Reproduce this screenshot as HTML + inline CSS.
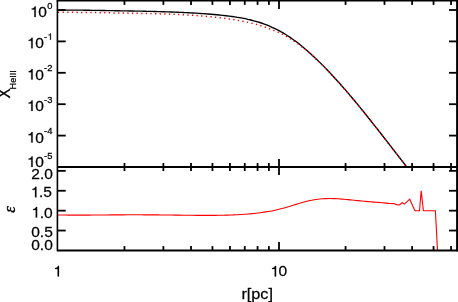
<!DOCTYPE html>
<html><head><meta charset="utf-8"><title>chart</title>
<style>html,body{margin:0;padding:0;background:#fff;}body{width:458px;height:302px;overflow:hidden;position:relative;font-family:"Liberation Sans",sans-serif;}</style>
</head><body>
<svg width="458" height="302" viewBox="0 0 458 302" style="position:absolute;left:0;top:0">
<rect x="0" y="0" width="458" height="302" fill="#fff"/>
<path d="M58.00,10.06 C58.50,10.06 60.00,10.05 61.00,10.05 C62.00,10.05 63.00,10.05 64.00,10.05 C65.00,10.05 66.00,10.05 67.00,10.05 C68.00,10.05 69.00,10.05 70.00,10.06 C71.00,10.06 72.00,10.07 73.00,10.08 C74.00,10.09 75.00,10.10 76.00,10.11 C77.00,10.12 78.00,10.13 79.00,10.14 C80.00,10.15 81.00,10.16 82.00,10.18 C83.00,10.19 84.00,10.20 85.00,10.22 C86.00,10.23 87.00,10.25 88.00,10.26 C89.00,10.28 90.00,10.29 91.00,10.31 C92.00,10.32 93.00,10.34 94.00,10.36 C95.00,10.37 96.00,10.39 97.00,10.41 C98.00,10.42 99.00,10.44 100.00,10.46 C101.00,10.47 102.00,10.49 103.00,10.51 C104.00,10.52 105.00,10.54 106.00,10.56 C107.00,10.57 108.00,10.59 109.00,10.61 C110.00,10.62 111.00,10.64 112.00,10.66 C113.00,10.67 114.00,10.69 115.00,10.71 C116.00,10.73 117.00,10.74 118.00,10.76 C119.00,10.78 120.00,10.79 121.00,10.81 C122.00,10.83 123.00,10.85 124.00,10.86 C125.00,10.88 126.00,10.90 127.00,10.92 C128.00,10.93 129.00,10.95 130.00,10.97 C131.00,10.99 132.00,11.01 133.00,11.03 C134.00,11.04 135.00,11.06 136.00,11.08 C137.00,11.10 138.00,11.12 139.00,11.14 C140.00,11.16 141.00,11.18 142.00,11.20 C143.00,11.22 144.00,11.25 145.00,11.27 C146.00,11.29 147.00,11.31 148.00,11.33 C149.00,11.36 150.00,11.38 151.00,11.41 C152.00,11.43 153.00,11.46 154.00,11.48 C155.00,11.51 156.00,11.53 157.00,11.56 C158.00,11.59 159.00,11.62 160.00,11.65 C161.00,11.68 162.00,11.71 163.00,11.74 C164.00,11.77 165.00,11.80 166.00,11.83 C167.00,11.87 168.00,11.90 169.00,11.94 C170.00,11.97 171.00,12.01 172.00,12.04 C173.00,12.08 174.00,12.12 175.00,12.16 C176.00,12.20 177.00,12.24 178.00,12.28 C179.00,12.33 180.00,12.37 181.00,12.42 C182.00,12.46 183.00,12.51 184.00,12.56 C185.00,12.60 186.00,12.65 187.00,12.70 C188.00,12.75 189.00,12.81 190.00,12.86 C191.00,12.91 192.00,12.97 193.00,13.03 C194.00,13.08 195.00,13.14 196.00,13.20 C197.00,13.26 198.00,13.32 199.00,13.39 C200.00,13.45 201.00,13.52 202.00,13.58 C203.00,13.65 204.00,13.72 205.00,13.79 C206.00,13.86 207.00,13.94 208.00,14.01 C209.00,14.09 210.00,14.17 211.00,14.25 C212.00,14.33 213.00,14.41 214.00,14.50 C215.00,14.59 216.00,14.68 217.00,14.77 C218.00,14.86 219.00,14.96 220.00,15.06 C221.00,15.16 222.00,15.26 223.00,15.37 C224.00,15.48 225.00,15.59 226.00,15.71 C227.00,15.83 228.00,15.95 229.00,16.07 C230.00,16.20 231.00,16.33 232.00,16.47 C233.00,16.61 234.00,16.75 235.00,16.90 C236.00,17.06 237.00,17.21 238.00,17.38 C239.00,17.54 240.00,17.72 241.00,17.90 C242.00,18.08 243.00,18.27 244.00,18.46 C245.00,18.66 246.00,18.87 247.00,19.09 C248.00,19.31 249.00,19.53 250.00,19.77 C251.00,20.01 252.00,20.26 253.00,20.53 C254.00,20.79 255.00,21.06 256.00,21.35 C257.00,21.64 258.00,21.94 259.00,22.25 C260.00,22.57 261.00,22.90 262.00,23.24 C263.00,23.59 264.00,23.94 265.00,24.32 C266.00,24.69 267.00,25.08 268.00,25.49 C269.00,25.90 270.00,26.32 271.00,26.76 C272.00,27.20 273.00,27.66 274.00,28.13 C275.00,28.61 276.00,29.10 277.00,29.61 C278.00,30.12 279.00,30.65 280.00,31.20 C281.00,31.75 282.00,32.31 283.00,32.90 C284.00,33.48 285.00,34.09 286.00,34.71 C287.00,35.34 288.00,35.98 289.00,36.64 C290.00,37.30 291.00,37.98 292.00,38.68 C293.00,39.38 294.00,40.09 295.00,40.83 C296.00,41.56 297.00,42.32 298.00,43.09 C299.00,43.86 300.00,44.65 301.00,45.45 C302.00,46.26 303.00,47.08 304.00,47.92 C305.00,48.76 306.00,49.62 307.00,50.49 C308.00,51.36 309.00,52.24 310.00,53.14 C311.00,54.04 312.00,54.96 313.00,55.89 C314.00,56.82 315.00,57.76 316.00,58.71 C317.00,59.67 318.00,60.64 319.00,61.62 C320.00,62.60 321.00,63.59 322.00,64.60 C323.00,65.60 324.00,66.62 325.00,67.64 C326.00,68.67 327.00,69.71 328.00,70.76 C329.00,71.81 330.00,72.87 331.00,73.93 C332.00,75.00 333.00,76.08 334.00,77.17 C335.00,78.26 336.00,79.36 337.00,80.46 C338.00,81.57 339.00,82.69 340.00,83.81 C341.00,84.94 342.00,86.07 343.00,87.22 C344.00,88.36 345.00,89.51 346.00,90.67 C347.00,91.83 348.00,92.99 349.00,94.17 C350.00,95.34 351.00,96.52 352.00,97.71 C353.00,98.90 354.00,100.10 355.00,101.30 C356.00,102.50 357.00,103.71 358.00,104.93 C359.00,106.14 360.00,107.37 361.00,108.59 C362.00,109.82 363.00,111.05 364.00,112.29 C365.00,113.53 366.00,114.77 367.00,116.02 C368.00,117.27 369.00,118.52 370.00,119.78 C371.00,121.03 372.00,122.29 373.00,123.56 C374.00,124.82 375.00,126.09 376.00,127.36 C377.00,128.63 378.00,129.91 379.00,131.18 C380.00,132.46 381.00,133.74 382.00,135.02 C383.00,136.30 384.00,137.58 385.00,138.87 C386.00,140.15 387.00,141.44 388.00,142.73 C389.00,144.02 390.00,145.31 391.00,146.60 C392.00,147.89 393.00,149.18 394.00,150.47 C395.00,151.76 396.00,153.05 397.00,154.35 C398.00,155.64 399.00,156.93 400.00,158.22 C401.00,159.51 402.00,160.81 403.00,162.10 C404.00,163.39 405.47,165.28 406.00,165.97 C406.53,166.66 406.17,166.18 406.20,166.23" fill="none" stroke="#000" stroke-width="1.35" stroke-linejoin="round"/>
<path d="M58.00,12.36 C58.50,12.35 60.00,12.35 61.00,12.34 C62.00,12.34 63.00,12.34 64.00,12.34 C65.00,12.33 66.00,12.33 67.00,12.33 C68.00,12.33 69.00,12.32 70.00,12.33 C71.00,12.33 72.00,12.33 73.00,12.34 C74.00,12.35 75.00,12.35 76.00,12.36 C77.00,12.37 78.00,12.38 79.00,12.39 C80.00,12.40 81.00,12.41 82.00,12.42 C83.00,12.43 84.00,12.44 85.00,12.46 C86.00,12.47 87.00,12.48 88.00,12.49 C89.00,12.51 90.00,12.52 91.00,12.54 C92.00,12.55 93.00,12.56 94.00,12.58 C95.00,12.59 96.00,12.61 97.00,12.62 C98.00,12.64 99.00,12.65 100.00,12.67 C101.00,12.68 102.00,12.70 103.00,12.72 C104.00,12.73 105.00,12.75 106.00,12.76 C107.00,12.78 108.00,12.79 109.00,12.81 C110.00,12.83 111.00,12.84 112.00,12.86 C113.00,12.88 114.00,12.89 115.00,12.91 C116.00,12.93 117.00,12.94 118.00,12.96 C119.00,12.98 120.00,12.99 121.00,13.01 C122.00,13.03 123.00,13.05 124.00,13.06 C125.00,13.08 126.00,13.10 127.00,13.12 C128.00,13.13 129.00,13.15 130.00,13.17 C131.00,13.19 132.00,13.21 133.00,13.23 C134.00,13.24 135.00,13.26 136.00,13.28 C137.00,13.30 138.00,13.32 139.00,13.34 C140.00,13.36 141.00,13.38 142.00,13.40 C143.00,13.42 144.00,13.45 145.00,13.47 C146.00,13.49 147.00,13.51 148.00,13.53 C149.00,13.56 150.00,13.58 151.00,13.61 C152.00,13.63 153.00,13.66 154.00,13.68 C155.00,13.71 156.00,13.73 157.00,13.76 C158.00,13.79 159.00,13.82 160.00,13.85 C161.00,13.88 162.00,13.91 163.00,13.94 C164.00,13.97 165.00,14.00 166.00,14.03 C167.00,14.07 168.00,14.10 169.00,14.14 C170.00,14.17 171.00,14.21 172.00,14.25 C173.00,14.29 174.00,14.33 175.00,14.37 C176.00,14.41 177.00,14.46 178.00,14.51 C179.00,14.55 180.00,14.60 181.00,14.65 C182.00,14.70 183.00,14.76 184.00,14.81 C185.00,14.87 186.00,14.93 187.00,14.98 C188.00,15.04 189.00,15.10 190.00,15.17 C191.00,15.23 192.00,15.29 193.00,15.36 C194.00,15.43 195.00,15.49 196.00,15.56 C197.00,15.63 198.00,15.70 199.00,15.78 C200.00,15.85 201.00,15.92 202.00,16.00 C203.00,16.08 204.00,16.17 205.00,16.25 C206.00,16.34 207.00,16.43 208.00,16.52 C209.00,16.61 210.00,16.70 211.00,16.80 C212.00,16.90 213.00,17.00 214.00,17.10 C215.00,17.21 216.00,17.31 217.00,17.42 C218.00,17.53 219.00,17.64 220.00,17.76 C221.00,17.88 222.00,17.99 223.00,18.12 C224.00,18.24 225.00,18.37 226.00,18.51 C227.00,18.64 228.00,18.79 229.00,18.93 C230.00,19.08 231.00,19.23 232.00,19.38 C233.00,19.54 234.00,19.70 235.00,19.87 C236.00,20.03 237.00,20.20 238.00,20.38 C239.00,20.56 240.00,20.74 241.00,20.93 C242.00,21.12 243.00,21.31 244.00,21.51 C245.00,21.71 246.00,21.92 247.00,22.14 C248.00,22.35 249.00,22.57 250.00,22.81 C251.00,23.04 252.00,23.28 253.00,23.53 C254.00,23.79 255.00,24.05 256.00,24.33 C257.00,24.60 258.00,24.89 259.00,25.19 C260.00,25.49 261.00,25.80 262.00,26.12 C263.00,26.44 264.00,26.77 265.00,27.11 C266.00,27.45 267.00,27.81 268.00,28.17 C269.00,28.54 270.00,28.93 271.00,29.31 C272.00,29.69 273.00,30.06 274.00,30.45 C275.00,30.84 276.00,31.22 277.00,31.65 C278.00,32.07 279.00,32.52 280.00,33.00 C281.00,33.48 282.00,34.00 283.00,34.53 C284.00,35.07 285.00,35.63 286.00,36.20 C287.00,36.78 288.00,37.38 289.00,37.99 C290.00,38.60 291.00,39.23 292.00,39.88 C293.00,40.53 294.00,41.19 295.00,41.88 C296.00,42.56 297.00,43.26 298.00,43.99 C299.00,44.71 300.00,45.45 301.00,46.21 C302.00,46.96 303.00,47.73 304.00,48.52 C305.00,49.31 306.00,50.11 307.00,50.94 C308.00,51.77 309.00,52.62 310.00,53.49 C311.00,54.36 312.00,55.26 313.00,56.16 C314.00,57.07 315.00,57.99 316.00,58.92 C317.00,59.86 318.00,60.81 319.00,61.77 C320.00,62.74 321.00,63.72 322.00,64.71 C323.00,65.71 324.00,66.72 325.00,67.74 C326.00,68.77 327.00,69.81 328.00,70.85 C329.00,71.90 330.00,72.96 331.00,74.03 C332.00,75.09 333.00,76.17 334.00,77.26 C335.00,78.35 336.00,79.44 337.00,80.55 C338.00,81.65 339.00,82.77 340.00,83.89 C341.00,85.02 342.00,86.15 343.00,87.29 C344.00,88.43 345.00,89.58 346.00,90.74 C347.00,91.90 348.00,93.07 349.00,94.24 C350.00,95.41 351.00,96.59 352.00,97.78 C353.00,98.97 354.00,100.17 355.00,101.37 C356.00,102.57 357.00,103.78 358.00,104.99 C359.00,106.21 360.00,107.43 361.00,108.66 C362.00,109.88 363.00,111.12 364.00,112.35 C365.00,113.59 366.00,114.83 367.00,116.08 C368.00,117.33 369.00,118.58 370.00,119.83 C371.00,121.09 372.00,122.35 373.00,123.61 C374.00,124.88 375.00,126.15 376.00,127.42 C377.00,128.69 378.00,129.96 379.00,131.24 C380.00,132.51 381.00,133.79 382.00,135.07 C383.00,136.35 384.00,137.64 385.00,138.92 C386.00,140.21 387.00,141.49 388.00,142.78 C389.00,144.07 390.00,145.36 391.00,146.65 C392.00,147.94 393.00,149.23 394.00,150.52 C395.00,151.81 396.00,153.10 397.00,154.40 C398.00,155.69 399.00,156.98 400.00,158.27 C401.00,159.56 402.00,160.86 403.00,162.15 C404.00,163.44 405.47,165.33 406.00,166.02 C406.53,166.71 406.17,166.23 406.20,166.28" fill="none" stroke="#f00" stroke-width="1.5" stroke-dasharray="1.3 3.32" stroke-linejoin="round"/>
<path d="M58.00,214.94 C58.67,214.95 60.67,214.99 62.00,215.02 C63.33,215.04 64.67,215.06 66.00,215.07 C67.33,215.09 68.67,215.10 70.00,215.11 C71.33,215.12 72.67,215.13 74.00,215.13 C75.33,215.13 76.67,215.14 78.00,215.13 C79.33,215.13 80.67,215.13 82.00,215.13 C83.33,215.12 84.67,215.12 86.00,215.11 C87.33,215.11 88.67,215.10 90.00,215.09 C91.33,215.08 92.67,215.07 94.00,215.06 C95.33,215.05 96.67,215.04 98.00,215.03 C99.33,215.02 100.67,215.00 102.00,214.99 C103.33,214.98 104.67,214.97 106.00,214.96 C107.33,214.95 108.67,214.93 110.00,214.92 C111.33,214.91 112.67,214.90 114.00,214.89 C115.33,214.88 116.67,214.87 118.00,214.87 C119.33,214.86 120.67,214.85 122.00,214.84 C123.33,214.84 124.67,214.83 126.00,214.82 C127.33,214.82 128.67,214.82 130.00,214.81 C131.33,214.81 132.67,214.81 134.00,214.81 C135.33,214.81 136.67,214.81 138.00,214.81 C139.33,214.81 140.67,214.81 142.00,214.82 C143.33,214.82 144.67,214.83 146.00,214.83 C147.33,214.84 148.67,214.84 150.00,214.85 C151.33,214.86 152.67,214.87 154.00,214.88 C155.33,214.89 156.67,214.90 158.00,214.91 C159.33,214.93 160.67,214.94 162.00,214.95 C163.33,214.97 164.67,214.98 166.00,215.00 C167.33,215.01 168.67,215.03 170.00,215.04 C171.33,215.06 172.67,215.08 174.00,215.09 C175.33,215.11 176.67,215.13 178.00,215.14 C179.33,215.16 180.67,215.18 182.00,215.19 C183.33,215.21 184.67,215.22 186.00,215.24 C187.33,215.26 188.67,215.27 190.00,215.28 C191.33,215.30 192.67,215.31 194.00,215.32 C195.33,215.34 196.67,215.35 198.00,215.35 C199.33,215.36 200.67,215.37 202.00,215.38 C203.33,215.38 204.67,215.39 206.00,215.39 C207.33,215.39 208.67,215.39 210.00,215.38 C211.33,215.38 212.67,215.37 214.00,215.36 C215.33,215.35 216.67,215.33 218.00,215.32 C219.33,215.30 220.67,215.28 222.00,215.25 C223.33,215.22 224.67,215.19 226.00,215.16 C227.33,215.12 228.67,215.08 230.00,215.04 C231.33,214.99 232.67,214.94 234.00,214.88 C235.33,214.82 236.67,214.76 238.00,214.69 C239.33,214.62 240.67,214.54 242.00,214.46 C243.33,214.37 244.67,214.28 246.00,214.18 C247.33,214.08 248.67,213.97 250.00,213.85 C251.33,213.73 252.67,213.60 254.00,213.46 C255.33,213.32 256.67,213.17 258.00,213.01 C259.33,212.85 260.67,212.68 262.00,212.49 C263.33,212.31 264.67,212.11 266.00,211.89 C267.33,211.68 268.67,211.46 270.00,211.21 C271.33,210.97 272.67,210.71 274.00,210.44 C275.33,210.16 276.67,209.87 278.00,209.56 C279.33,209.25 280.67,208.92 282.00,208.58 C283.33,208.23 284.67,207.86 286.00,207.47 C287.33,207.09 288.67,206.68 290.00,206.28 C291.33,205.87 292.67,205.44 294.00,205.02 C295.33,204.61 296.67,204.18 298.00,203.77 C299.33,203.37 300.67,202.96 302.00,202.58 C303.33,202.20 304.67,201.84 306.00,201.50 C307.33,201.17 308.67,200.86 310.00,200.57 C311.33,200.29 312.67,200.04 314.00,199.81 C315.33,199.59 316.67,199.39 318.00,199.23 C319.33,199.06 320.67,198.93 322.00,198.82 C323.33,198.71 324.67,198.64 326.00,198.59 C327.33,198.54 328.67,198.52 330.00,198.52 C331.33,198.52 332.67,198.55 334.00,198.60 C335.33,198.64 336.67,198.72 338.00,198.80 C339.33,198.88 340.67,198.99 342.00,199.10 C343.33,199.21 344.67,199.33 346.00,199.46 C347.33,199.59 348.67,199.72 350.00,199.86 C351.33,199.99 352.67,200.13 354.00,200.27 C355.33,200.40 356.67,200.54 358.00,200.67 C359.33,200.80 360.67,200.93 362.00,201.05 C363.33,201.18 364.67,201.30 366.00,201.42 C367.33,201.54 368.67,201.65 370.00,201.76 C371.33,201.87 372.67,201.98 374.00,202.08 C375.33,202.19 376.67,202.29 378.00,202.40 C379.33,202.51 380.67,202.62 382.00,202.73 C383.33,202.85 384.67,202.97 386.00,203.10 C387.33,203.23 389.33,203.45 390.00,203.53 L394.00,203.60 L396.40,204.60 L399.30,205.00 L402.20,202.70 L404.50,204.15 L409.70,199.15 L414.90,210.70 L419.50,210.70 L421.20,190.90 L423.40,210.70 L435.40,210.70 L437.50,250.40" fill="none" stroke="#f00" stroke-width="1.1" stroke-linejoin="miter"/>
<g stroke="#000" fill="none" stroke-linecap="butt">
<path d="M56.6,0.6 H458" stroke-width="1.6"/>
<path d="M57.4,0.6 V251.35" stroke-width="1.6"/>
<path d="M457.05,0 V251.35" stroke-width="1.9"/>
<path d="M57.4,167.0 H458" stroke-width="2.0"/>
<path d="M57.4,250.45000000000002 H458" stroke-width="1.9"/>
</g>
<g stroke="#000" stroke-width="1.8" fill="none">
<path d="M279.00,0.6 v8.3"/>
<path d="M279.00,159.0 V175.0"/>
<path d="M279.00,250.4 v-8.3"/>
<path d="M124.46,0.6 v4.3"/>
<path d="M124.46,163.0 V171.0"/>
<path d="M124.46,250.4 v-4.3"/>
<path d="M163.39,0.6 v4.3"/>
<path d="M163.39,163.0 V171.0"/>
<path d="M163.39,250.4 v-4.3"/>
<path d="M191.02,0.6 v4.3"/>
<path d="M191.02,163.0 V171.0"/>
<path d="M191.02,250.4 v-4.3"/>
<path d="M212.44,0.6 v4.3"/>
<path d="M212.44,163.0 V171.0"/>
<path d="M212.44,250.4 v-4.3"/>
<path d="M229.95,0.6 v4.3"/>
<path d="M229.95,163.0 V171.0"/>
<path d="M229.95,250.4 v-4.3"/>
<path d="M244.75,0.6 v4.3"/>
<path d="M244.75,163.0 V171.0"/>
<path d="M244.75,250.4 v-4.3"/>
<path d="M257.57,0.6 v4.3"/>
<path d="M257.57,163.0 V171.0"/>
<path d="M257.57,250.4 v-4.3"/>
<path d="M268.88,0.6 v4.3"/>
<path d="M268.88,163.0 V171.0"/>
<path d="M268.88,250.4 v-4.3"/>
<path d="M345.56,0.6 v4.3"/>
<path d="M345.56,163.0 V171.0"/>
<path d="M345.56,250.4 v-4.3"/>
<path d="M384.49,0.6 v4.3"/>
<path d="M384.49,163.0 V171.0"/>
<path d="M384.49,250.4 v-4.3"/>
<path d="M412.12,0.6 v4.3"/>
<path d="M412.12,163.0 V171.0"/>
<path d="M412.12,250.4 v-4.3"/>
<path d="M433.54,0.6 v4.3"/>
<path d="M433.54,163.0 V171.0"/>
<path d="M433.54,250.4 v-4.3"/>
<path d="M451.05,0.6 v4.3"/>
<path d="M451.05,163.0 V171.0"/>
<path d="M451.05,250.4 v-4.3"/>
<path d="M57.4,10.00 h8.3"/>
<path d="M457.0,10.00 h-8.0"/>
<path d="M57.4,41.40 h8.3"/>
<path d="M457.0,41.40 h-8.0"/>
<path d="M57.4,72.80 h8.3"/>
<path d="M457.0,72.80 h-8.0"/>
<path d="M57.4,104.20 h8.3"/>
<path d="M457.0,104.20 h-8.0"/>
<path d="M57.4,135.60 h8.3"/>
<path d="M457.0,135.60 h-8.0"/>
<path d="M57.4,167.00 h8.3"/>
<path d="M457.0,167.00 h-8.0"/>
<path d="M57.4,230.55 h8.3"/>
<path d="M457.0,230.55 h-8.0"/>
<path d="M57.4,210.65 h8.3"/>
<path d="M457.0,210.65 h-8.0"/>
<path d="M57.4,190.75 h8.3"/>
<path d="M457.0,190.75 h-8.0"/>
<path d="M57.4,170.85 h8.3"/>
<path d="M457.0,170.85 h-8.0"/>
</g>
<g font-family="Liberation Sans, sans-serif" font-size="14.8" fill="#000" stroke="#000" stroke-width="0.25" opacity="0.999">
<g transform="translate(46.904180000000004,17.0) scale(1.05,1)"><path transform="translate(-15.940,0) scale(0.01480,-0.01480)" d="M359,0 L271,0 L271,505 L102,505 L102,568 C190,572 262,612 292,709 L359,709 Z" stroke-width="16.9"/><text x="-8.229" y="0">0</text></g>
<text transform="translate(47.20418,8.5) scale(1.05,1)" text-anchor="start" font-size="8.9">0</text>
<g transform="translate(43.792295,48.3) scale(1.05,1)"><path transform="translate(-15.940,0) scale(0.01480,-0.01480)" d="M359,0 L271,0 L271,505 L102,505 L102,568 C190,572 262,612 292,709 L359,709 Z" stroke-width="16.9"/><text x="-8.229" y="0">0</text></g>
<g transform="translate(44.092295,39.8) scale(1.05,1)"><text x="0.000" y="0" font-size="8.9">-</text><path transform="translate(3.275,0) scale(0.00890,-0.00890)" d="M359,0 L271,0 L271,505 L102,505 L102,568 C190,572 262,612 292,709 L359,709 Z" stroke-width="28.1"/></g>
<g transform="translate(43.792295,79.6) scale(1.05,1)"><path transform="translate(-15.940,0) scale(0.01480,-0.01480)" d="M359,0 L271,0 L271,505 L102,505 L102,568 C190,572 262,612 292,709 L359,709 Z" stroke-width="16.9"/><text x="-8.229" y="0">0</text></g>
<text transform="translate(44.092295,71.1) scale(1.05,1)" text-anchor="start" font-size="8.9">-2</text>
<g transform="translate(43.792295,111.0) scale(1.05,1)"><path transform="translate(-15.940,0) scale(0.01480,-0.01480)" d="M359,0 L271,0 L271,505 L102,505 L102,568 C190,572 262,612 292,709 L359,709 Z" stroke-width="16.9"/><text x="-8.229" y="0">0</text></g>
<text transform="translate(44.092295,102.5) scale(1.05,1)" text-anchor="start" font-size="8.9">-3</text>
<g transform="translate(43.792295,142.6) scale(1.05,1)"><path transform="translate(-15.940,0) scale(0.01480,-0.01480)" d="M359,0 L271,0 L271,505 L102,505 L102,568 C190,572 262,612 292,709 L359,709 Z" stroke-width="16.9"/><text x="-8.229" y="0">0</text></g>
<text transform="translate(44.092295,134.1) scale(1.05,1)" text-anchor="start" font-size="8.9">-4</text>
<g transform="translate(43.792295,167.0) scale(1.05,1)"><path transform="translate(-15.940,0) scale(0.01480,-0.01480)" d="M359,0 L271,0 L271,505 L102,505 L102,568 C190,572 262,612 292,709 L359,709 Z" stroke-width="16.9"/><text x="-8.229" y="0">0</text></g>
<text transform="translate(44.092295,158.5) scale(1.05,1)" text-anchor="start" font-size="8.9">-5</text>
<text transform="translate(52.900000000000006,179.0) scale(1.05,1)" text-anchor="end">2.0</text>
<g transform="translate(51.900000000000006,197.3) scale(1.05,1)"><path transform="translate(-20.054,0) scale(0.01480,-0.01480)" d="M359,0 L271,0 L271,505 L102,505 L102,568 C190,572 262,612 292,709 L359,709 Z" stroke-width="16.9"/><text x="-12.343" y="0">.</text><text x="-8.229" y="0">5</text></g>
<g transform="translate(52.6,217.5) scale(1.05,1)"><path transform="translate(-20.054,0) scale(0.01480,-0.01480)" d="M359,0 L271,0 L271,505 L102,505 L102,568 C190,572 262,612 292,709 L359,709 Z" stroke-width="16.9"/><text x="-12.343" y="0">.</text><text x="-8.229" y="0">0</text></g>
<text transform="translate(52.800000000000004,237.4) scale(1.05,1)" text-anchor="end">0.5</text>
<text transform="translate(52.800000000000004,250.4) scale(1.05,1)" text-anchor="end">0.0</text>
<g transform="translate(57.2,276.4) scale(1.05,1)"><path transform="translate(-3.596,0) scale(0.01480,-0.01480)" d="M359,0 L271,0 L271,505 L102,505 L102,568 C190,572 262,612 292,709 L359,709 Z" stroke-width="16.9"/></g>
<g transform="translate(278.6,276.4) scale(1.05,1)"><path transform="translate(-7.711,0) scale(0.01480,-0.01480)" d="M359,0 L271,0 L271,505 L102,505 L102,568 C190,572 262,612 292,709 L359,709 Z" stroke-width="16.9"/><text x="0.000" y="0">0</text></g>
<text transform="translate(257.2,298.7) scale(1.10,1.02)" text-anchor="middle">r[pc]</text>
<g transform="translate(10.2,98.6) rotate(-90) scale(1.02,1.06)"><text x="0" y="0">X</text><text x="9.0" y="5.0" font-size="8.9">HeIII</text></g>
<g transform="translate(15.3,212.7) rotate(-90)"><text x="0" y="0" font-style="italic" font-family="Liberation Serif, serif" font-size="16.5" stroke-width="0.4">ε</text></g>
</g>
</svg>
</body></html>
